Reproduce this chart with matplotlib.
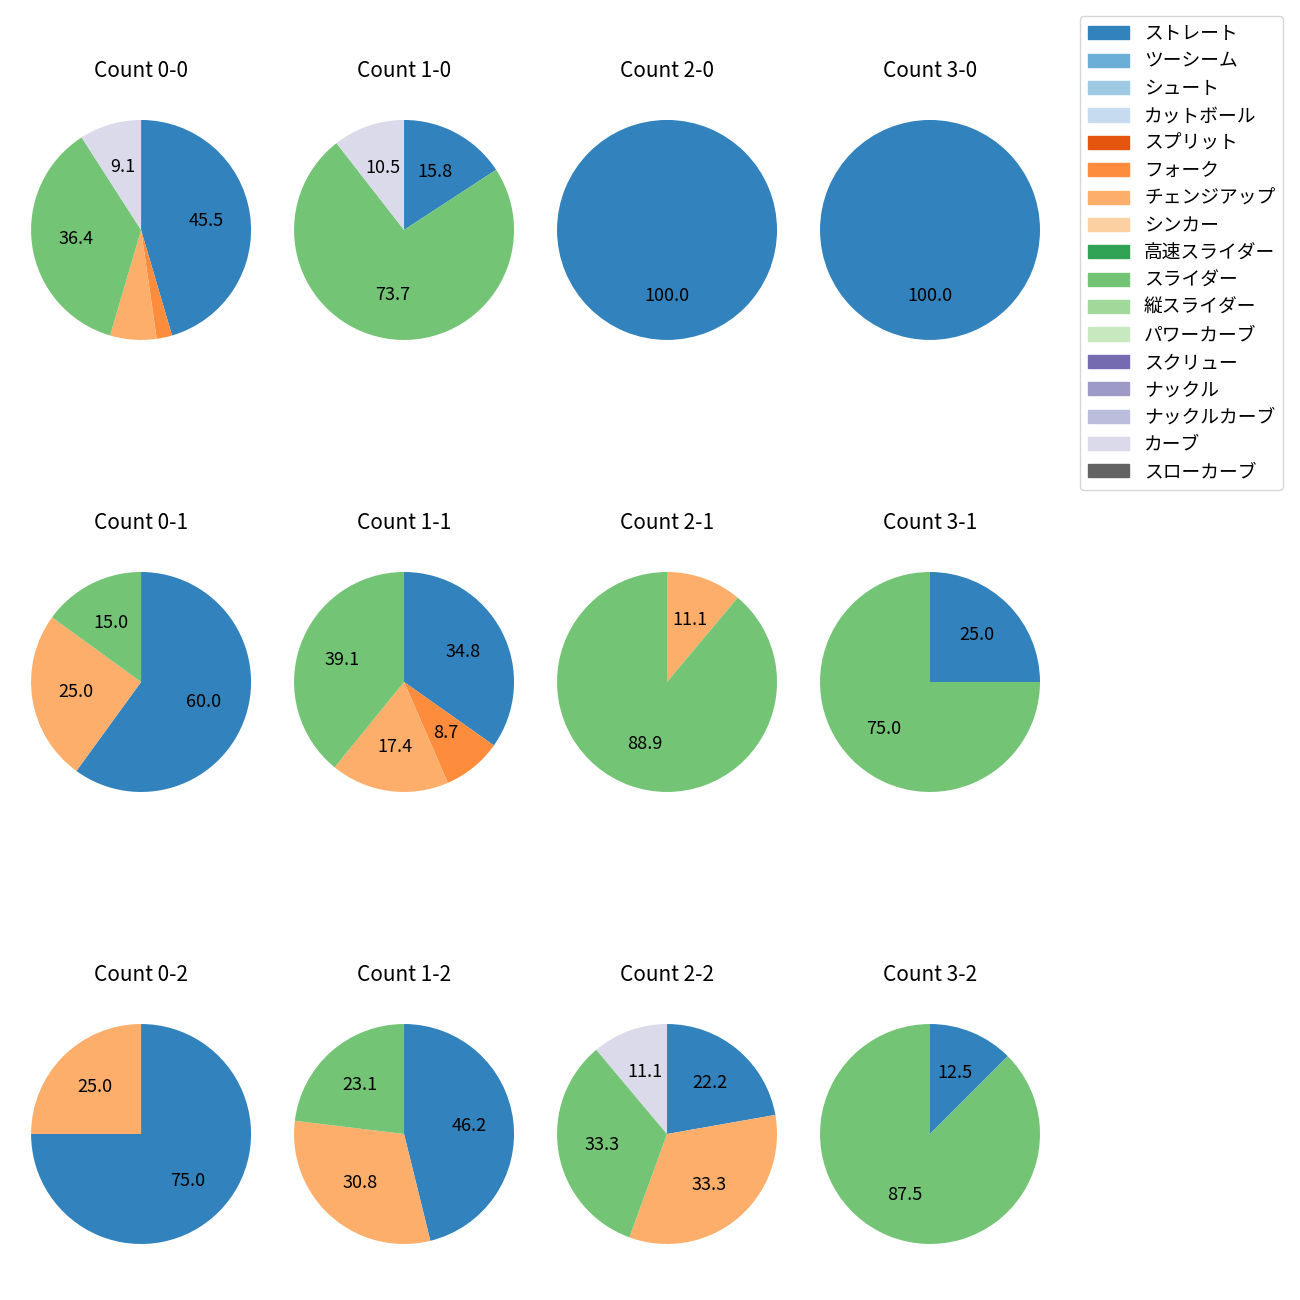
import matplotlib
matplotlib.use("Agg")
import matplotlib.pyplot as plt
from matplotlib.patches import Patch

plt.rcParams['font.family'] = ['Noto Sans CJK JP', 'DejaVu Sans']
plt.rcParams['font.size'] = 12

pitch_types = ['ストレート', 'ツーシーム', 'シュート', 'カットボール', 'スプリット', 'フォーク',
               'チェンジアップ', 'シンカー', '高速スライダー', 'スライダー', '縦スライダー',
               'パワーカーブ', 'スクリュー', 'ナックル', 'ナックルカーブ', 'カーブ', 'スローカーブ']
colors = ['#3182bd', '#6baed6', '#9ecae1', '#c6dbef', '#e6550d', '#fd8d3c',
          '#fdae6b', '#fdd0a2', '#31a354', '#74c476', '#a1d99b', '#c7e9c0',
          '#756bb1', '#9e9ac8', '#bcbddc', '#dadaeb', '#636363']

# pitch counts per ball-strike count, keyed by pitch type
counts = ['0-0', '1-0', '2-0', '3-0',
          '0-1', '1-1', '2-1', '3-1',
          '0-2', '1-2', '2-2', '3-2']
data = {
    '0-0': {'ストレート': 20, 'フォーク': 1, 'チェンジアップ': 3, 'スライダー': 16, 'カーブ': 4},
    '1-0': {'ストレート': 3, 'スライダー': 14, 'カーブ': 2},
    '2-0': {'ストレート': 1},
    '3-0': {'ストレート': 1},
    '0-1': {'ストレート': 12, 'チェンジアップ': 5, 'スライダー': 3},
    '1-1': {'ストレート': 8, 'フォーク': 2, 'チェンジアップ': 4, 'スライダー': 9},
    '2-1': {'チェンジアップ': 1, 'スライダー': 8},
    '3-1': {'ストレート': 1, 'スライダー': 3},
    '0-2': {'ストレート': 3, 'チェンジアップ': 1},
    '1-2': {'ストレート': 6, 'チェンジアップ': 4, 'スライダー': 3},
    '2-2': {'ストレート': 2, 'チェンジアップ': 3, 'スライダー': 3, 'カーブ': 1},
    '3-2': {'ストレート': 1, 'スライダー': 7},
}


def fmt(pct):
    return f'{pct:.1f}' if pct >= 7 else ''


fig, axes = plt.subplots(3, 4, figsize=(13, 13), dpi=100)
fig.subplots_adjust(left=0.0104, right=0.8135, top=0.9385, bottom=0.0123,
                    wspace=0.031, hspace=0.5067)

for ax, c in zip(axes.flat, counts):
    d = data[c]
    vals = [d[p] for p in pitch_types if p in d]
    cols = [colors[i] for i, p in enumerate(pitch_types) if p in d]
    ax.pie(vals, colors=cols, autopct=fmt, startangle=90, counterclock=False,
           radius=1.078, textprops={'fontsize': 13})
    ax.set_title(f'Count {c}', fontsize=15, pad=18)

handles = [Patch(color=col, label=p) for p, col in zip(pitch_types, colors)]
fig.legend(handles=handles, loc='upper right', bbox_to_anchor=(0.994, 0.995),
           fontsize=13.5, labelspacing=0.34, handlelength=2.2)

fig.savefig('out.png')
